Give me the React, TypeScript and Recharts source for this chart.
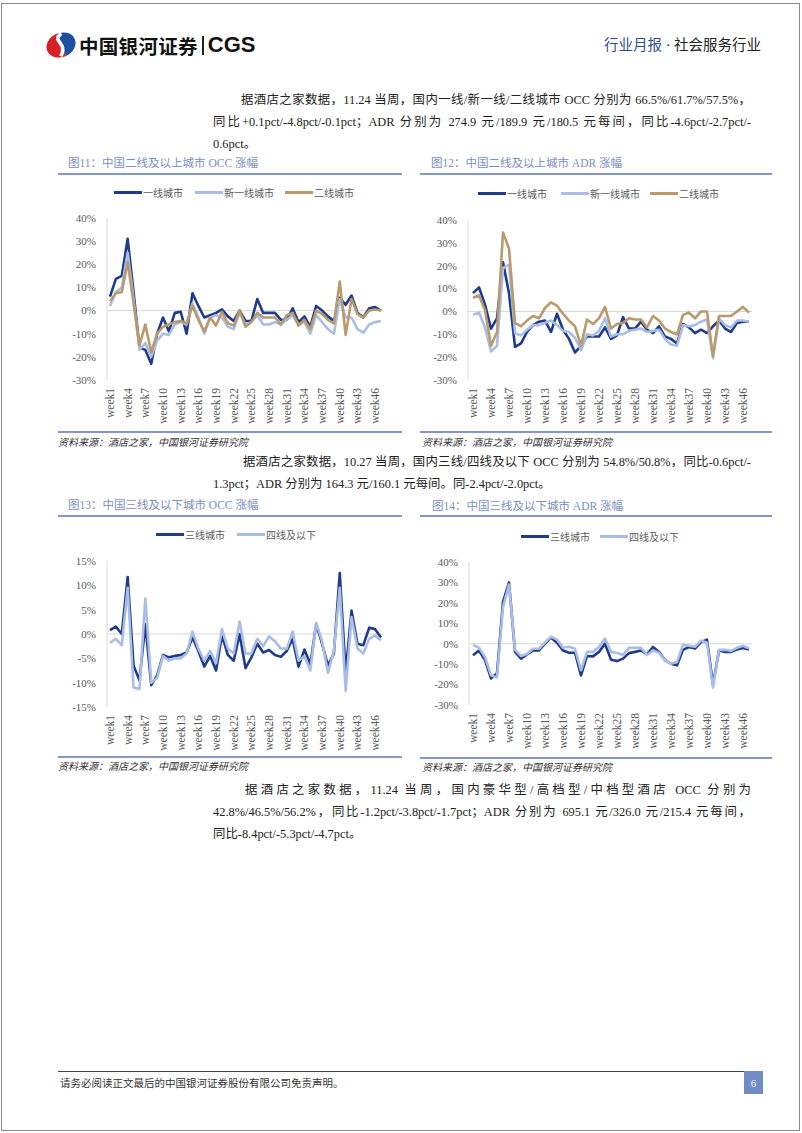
import { LineChart, Line, XAxis, YAxis, ReferenceLine } from 'recharts';

// week labels on the category axis
const weeks = Array.from({ length: 47 }, (_, i) => `week${i + 1}`);

// 图11 OCC (%)
const occTier1 = [6, 13.7, 15, 31, 8, -16, -17, -23, -10, -3, -9, -1, -0.5, -10, 7.5, 2, -3, -2, -1, 0.5, -2.5, -4.5, 0, -4.5, -4.5, 5, -1, -1, -1, -4, -4, 1, -5, -2.5, -7, 2, 0, -2.5, -4.5, 5.5, 2.5, 6.5, -1, -3, 1, 1.5, 0];
const occNewTier1 = [2, 8, 10, 25, 5, -17, -14, -20, -13, -10, -10.5, -6, -5, -6, 3, -3, -10, -3, -2, -3, -7, -8, -1, -6, -5, -2, -6, -6, -5, -6, -4, -2, -6, -5, -10, -2, -5, -8, -10, 5, -3, -3, -8, -9.5, -6, -5, -4.5];
const occTier2 = [4, 7.5, 8, 21, 3, -15, -6, -18, -10, -7, -6, -5, -4.5, -5.5, 2, -4, -9, -3, -6.5, -0.5, -5.5, -6.5, 0, -7, -5, -1, -3, -3, -3, -6, -2, -1, -6.5, -4, -8, 0, -1.5, -4, -5.5, 12.5, -10.5, 5, -1.5, -3, 0, 0.5, 0];

// 图12 ADR (%)
const adrTier1 = [8, 10.5, 3, -7.5, -3, 21.5, 8, -15.5, -14, -9, -6, -4.5, -4, -9, -1, -8, -12, -18, -15, -11, -11, -11, -7, -12, -10.5, -2.5, -7.5, -7.5, -4.5, -8, -9.5, -6.5, -11, -12, -14, -5.5, -7, -9.5, -8, -9.5, -6.5, -4, -7.5, -9, -5, -4.5, -4.5];
const adrNewTier1 = [-1.5, -0.5, -7, -17.5, -15, 19, 20.5, -9.5, -10.5, -8, -6, -6, -5, -4, -6, -8.5, -9, -11.5, -17, -10, -10.5, -8.5, -3, -11, -10, -10, -8.5, -8, -7.5, -9, -8.5, -8, -12, -14.5, -15, -6, -6.5, -6, -4.5, -3.5, -20.5, -3, -6, -7, -4, -4, -4.5];
const adrTier2 = [6, 7, 0.5, -15, -9, 34.5, 27.5, -5, -6.5, -4, -2, -3, 1.5, 4, 2.5, -1, -4, -6.5, -15, -3.5, -5.5, -3, 2, -7.5, -5.5, -5, -3, -3.5, -3.5, -7, -2, -4, -7.5, -9, -10, -1.5, -0.5, -3, 0, 0, -19.5, -2, -2, -2, 0, 2, -0.5];

// 图13 OCC (%)
const occTier3 = [0.8, 1.5, 0, 11.7, -6.5, -9.5, 2, -10.5, -8.5, -4.3, -4.8, -4.5, -4.3, -3.8, -0.7, -3.5, -6.7, -4.5, -7.5, -0.3, -4.3, -5.5, 0, -7, -4.8, -2, -3.8, -3.3, -4.3, -4.7, -3.5, -1, -6.7, -3.2, -6.2, 2, -2, -6.5, -4, 12.5, -8, 4.8, -2, -2.3, 1.3, 1, -0.7];
const occTier4 = [-1.8, -1, -2.3, 9.5, -11, -11.3, 7.3, -10, -9, -4.5, -5.5, -5, -5, -4, 0.5, -3, -5.5, -3.5, -6, 1, -3, -4, 2.5, -4, -4, -1, -2.5, -0.5, -1.5, -3, -3, 0.5, -5.5, -4.5, -7.5, 2.3, -1.5, -8, -3.5, 9.5, -11.7, 3.5, -3, -4, -1, -0.3, -1.3];

// 图14 ADR (%)
const adrTier3 = [-5.7, -3.3, -8, -17, -14.5, 20.5, 30, -4, -7.3, -5.2, -3.3, -3.3, 0, 3, 0.5, -3.3, -4.4, -4.4, -15.5, -6, -6.2, -4, 0, -7.8, -8.5, -7.3, -4.6, -4, -3.3, -5.2, -1.6, -4, -8, -9.8, -10.6, -3, -1.6, -2.4, 0.8, 2, -20, -3.3, -4, -4, -2.8, -2.1, -2.8];
const adrTier4 = [-0.5, -2, -6.5, -15.5, -16.5, 18, 29, -3, -6, -5, -2.5, -2.5, 0.5, 3.5, 2, -2, -1.5, -2.5, -13, -4, -4, -1.5, 2.5, -4, -4.5, -5.5, -2, -2, -2, -5.5, -3.3, -4.5, -8, -9.8, -9, -0.5, -1, -1.5, 1.5, 0.5, -21.5, -3, -3, -3.5, -2, -1, -2.3];

const ticksWide = [-30, -20, -10, 0, 10, 20, 30, 40];
const ticksNarrow = [-15, -10, -5, 0, 5, 10, 15];

const NAVY = '#1f3b8c';
const LIGHT = '#a9bde6';
const TAN = '#b89a6c';
const SERIF = "'Liberation Serif', 'Noto Sans CJK SC', serif";
const AXIS_GREY = '#d9d9d9';
const TEXT_GREY = '#595959';

interface SeriesDef {
  key: string;
  name: string;
  color: string;
  values: number[];
}

// eslint-disable-next-line @typescript-eslint/no-explicit-any
const WeekTick = (props: any) => {
  const { x, y, payload } = props;
  return (
    <text
      x={x}
      y={y}
      transform={`rotate(-90, ${x}, ${y})`}
      textAnchor="end"
      dominantBaseline="central"
      fill={TEXT_GREY}
      fontSize={11.5}
      fontFamily={SERIF}
    >
      {payload.value}
    </text>
  );
};

interface TrendProps {
  left: number;
  top: number;
  width: number;
  height: number;
  marginTop: number;
  yWidth: number;
  padLeft: number;
  ticks: number[];
  series: SeriesDef[];
}

function TrendChart({ left, top, width, height, marginTop, yWidth, padLeft, ticks, series }: TrendProps) {
  const rows = weeks.map((w, i) => {
    const r: Record<string, string | number> = { week: w };
    series.forEach((s) => {
      r[s.key] = s.values[i];
    });
    return r;
  });
  return (
    <div style={{ position: 'absolute', left, top }}>
      <LineChart width={width} height={height} data={rows} margin={{ top: marginTop, right: 0, bottom: 0, left: 0 }}>
        <XAxis
          dataKey="week"
          scale="point"
          padding={{ left: padLeft, right: 3 }}
          interval={2}
          axisLine={false}
          tickLine={false}
          height={50}
          tick={(p) => <WeekTick {...p} />}
        />
        <YAxis
          type="number"
          domain={[ticks[0], ticks[ticks.length - 1]]}
          ticks={ticks}
          width={yWidth}
          axisLine={{ stroke: AXIS_GREY }}
          tickLine={false}
          tickMargin={5}
          tick={{ fill: TEXT_GREY, fontSize: 11, fontFamily: SERIF }}
          tickFormatter={(v) => `${v}%`}
        />
        <ReferenceLine y={0} stroke={AXIS_GREY} />
        {series.map((s) => (
          <Line
            key={s.key}
            type="linear"
            dataKey={s.key}
            name={s.name}
            stroke={s.color}
            strokeWidth={2.6}
            strokeLinejoin="round"
            dot={false}
            isAnimationActive={false}
          />
        ))}
      </LineChart>
    </div>
  );
}

function Legend({ top, items }: { top: number; items: { x: number; label: string; color: string }[] }) {
  return (
    <>
      {items.map((it) => (
        <div key={it.label} style={{ position: 'absolute', left: it.x, top: top - 7, height: 14, display: 'flex', alignItems: 'center' }}>
          <div style={{ width: 28, height: 3, background: it.color }} />
          <span style={{ marginLeft: 1, fontSize: 10, color: TEXT_GREY, fontFamily: SERIF, whiteSpace: 'nowrap' }}>{it.label}</span>
        </div>
      ))}
    </>
  );
}

function TextLine({ left, y, width, text, justify }: { left: number; y: number; width?: number; text: string; justify?: boolean }) {
  return (
    <div
      style={{
        position: 'absolute',
        left,
        top: y - 8,
        width,
        height: 16,
        lineHeight: '16px',
        fontSize: 12.4,
        color: '#222',
        fontFamily: SERIF,
        whiteSpace: 'nowrap',
        textAlign: justify ? 'justify' : 'left',
        textAlignLast: justify ? 'justify' : 'left',
      }}
    >
      {text}
    </div>
  );
}

function Rule({ left, right, y, color = '#8596c8', h = 1.5 }: { left: number; right: number; y: number; color?: string; h?: number }) {
  return <div style={{ position: 'absolute', left, top: y, width: right - left, height: h, background: color }} />;
}

function Title({ left, y, text }: { left: number; y: number; text: string }) {
  return (
    <div style={{ position: 'absolute', left, top: y - 8, lineHeight: '16px', fontSize: 11.5, color: '#7a8fc2', fontFamily: SERIF, whiteSpace: 'nowrap' }}>
      {text}
    </div>
  );
}

function Source({ left, y }: { left: number; y: number }) {
  return (
    <div style={{ position: 'absolute', left, top: y - 7, lineHeight: '14px', fontSize: 10, fontStyle: 'italic', color: '#333', fontFamily: SERIF, whiteSpace: 'nowrap' }}>
      资料来源：酒店之家，中国银河证券研究院
    </div>
  );
}

export default function App() {
  const upperOcc: SeriesDef[] = [
    { key: 't1', name: '一线城市', color: NAVY, values: occTier1 },
    { key: 'n1', name: '新一线城市', color: LIGHT, values: occNewTier1 },
    { key: 't2', name: '二线城市', color: TAN, values: occTier2 },
  ];
  const upperAdr: SeriesDef[] = [
    { key: 't1', name: '一线城市', color: NAVY, values: adrTier1 },
    { key: 'n1', name: '新一线城市', color: LIGHT, values: adrNewTier1 },
    { key: 't2', name: '二线城市', color: TAN, values: adrTier2 },
  ];
  const lowerOcc: SeriesDef[] = [
    { key: 't3', name: '三线城市', color: NAVY, values: occTier3 },
    { key: 't4', name: '四线及以下', color: LIGHT, values: occTier4 },
  ];
  const lowerAdr: SeriesDef[] = [
    { key: 't3', name: '三线城市', color: NAVY, values: adrTier3 },
    { key: 't4', name: '四线及以下', color: LIGHT, values: adrTier4 },
  ];

  return (
    <div style={{ position: 'absolute', left: 0, top: 0, width: 802, height: 1133, background: '#fff', overflow: 'hidden' }}>
      {/* page frame */}
      <div style={{ position: 'absolute', left: 1, top: 3, width: 799, height: 1128, border: '1px solid #8a8a8a', boxSizing: 'border-box' }} />

      {/* header */}
      <svg style={{ position: 'absolute', left: 44, top: 31 }} width={34} height={28} viewBox="0 0 34 28">
        <g transform="rotate(-25 17 14)">
          <path d="M17 2 A15 12 0 0 0 17 26 Z" fill="#d71f26" />
          <path d="M17 2 A15 12 0 0 1 17 26 Z" fill="#1f4fa3" />
          <path d="M22 4 C 9 6, 25 15, 12 24" stroke="#fff" strokeWidth={3.5} fill="none" />
        </g>
      </svg>
      <div style={{ position: 'absolute', left: 79, top: 32, height: 26, display: 'flex', alignItems: 'center', color: '#111' }}>
        <span style={{ fontFamily: "'Noto Sans CJK SC', sans-serif", fontWeight: 700, fontSize: 19.5, letterSpacing: 0.3 }}>中国银河证券</span>
        <span style={{ width: 2, height: 19, background: '#222', margin: '0 4px 0 4px' }} />
        <span style={{ fontFamily: "'Liberation Sans', Arial, sans-serif", fontWeight: 700, fontSize: 22 }}>CGS</span>
      </div>
      <div style={{ position: 'absolute', left: 604, top: 36, lineHeight: '18px', fontSize: 14.5, fontFamily: SERIF, whiteSpace: 'nowrap' }}>
        <span style={{ color: '#2e4d8f' }}>行业月报</span>
        <span style={{ color: '#222' }}> · 社会服务行业</span>
      </div>

      {/* paragraph 1 */}
      <TextLine left={241} y={100} width={510} justify text="据酒店之家数据，11.24 当周，国内一线/新一线/二线城市 OCC 分别为 66.5%/61.7%/57.5%，" />
      <TextLine left={213} y={122} width={538} justify text="同比+0.1pct/-4.8pct/-0.1pct；ADR 分别为 274.9 元/189.9 元/180.5 元每间，同比-4.6pct/-2.7pct/-" />
      <TextLine left={213} y={144} text="0.6pct。" />

      {/* figure 11 / 12 */}
      <Title left={68} y={163} text="图11：中国二线及以上城市 OCC 涨幅" />
      <Rule left={58} right={402} y={173} />
      <Title left={431} y={163} text="图12：中国二线及以上城市 ADR 涨幅" />
      <Rule left={420} right={772} y={173} />

      <Legend
        top={192}
        items={[
          { x: 114, label: '一线城市', color: NAVY },
          { x: 195, label: '新一线城市', color: LIGHT },
          { x: 285, label: '二线城市', color: TAN },
        ]}
      />
      <Legend
        top={193}
        items={[
          { x: 478, label: '一线城市', color: NAVY },
          { x: 561, label: '新一线城市', color: LIGHT },
          { x: 650, label: '二线城市', color: TAN },
        ]}
      />

      <TrendChart left={55} top={200} width={329} height={230} marginTop={18} yWidth={52} padLeft={3} ticks={ticksWide} series={upperOcc} />
      <TrendChart left={415} top={200} width={337} height={230} marginTop={20} yWidth={53} padLeft={5} ticks={ticksWide} series={upperAdr} />

      <Rule left={58} right={402} y={431} />
      <Rule left={420} right={772} y={431} />
      <Source left={58} y={443} />
      <Source left={422} y={443} />

      {/* paragraph 2 */}
      <TextLine left={243} y={462} width={508} justify text="据酒店之家数据，10.27 当周，国内三线/四线及以下 OCC 分别为 54.8%/50.8%，同比-0.6pct/-" />
      <TextLine left={213} y={484} text="1.3pct；ADR 分别为 164.3 元/160.1 元每间。同-2.4pct/-2.0pct。" />

      {/* figure 13 / 14 */}
      <Title left={68} y={505} text="图13：中国三线及以下城市 OCC 涨幅" />
      <Rule left={58} right={402} y={515} />
      <Title left={432} y={506} text="图14：中国三线及以下城市 ADR 涨幅" />
      <Rule left={420} right={772} y={515} />

      <Legend
        top={534}
        items={[
          { x: 156, label: '三线城市', color: NAVY },
          { x: 237, label: '四线及以下', color: LIGHT },
        ]}
      />
      <Legend
        top={536}
        items={[
          { x: 521, label: '三线城市', color: NAVY },
          { x: 600, label: '四线及以下', color: LIGHT },
        ]}
      />

      <TrendChart left={55} top={545} width={329} height={212} marginTop={16} yWidth={52} padLeft={3} ticks={ticksNarrow} series={lowerOcc} />
      <TrendChart left={415} top={545} width={337} height={210} marginTop={17} yWidth={54} padLeft={4} ticks={ticksWide} series={lowerAdr} />

      <Rule left={58} right={402} y={756} />
      <Rule left={420} right={772} y={757} />
      <Source left={58} y={767} />
      <Source left={422} y={768} />

      {/* paragraph 3 */}
      <TextLine left={245} y={790} width={506} justify text="据酒店之家数据，11.24 当周，国内豪华型/高档型/中档型酒店 OCC 分别为" />
      <TextLine left={213} y={812} width={538} justify text="42.8%/46.5%/56.2%，同比-1.2pct/-3.8pct/-1.7pct；ADR 分别为 695.1 元/326.0 元/215.4 元每间，" />
      <TextLine left={213} y={834} text="同比-8.4pct/-5.3pct/-4.7pct。" />

      {/* footer */}
      <Rule left={58} right={762} y={1071} color="#444" h={1} />
      <div style={{ position: 'absolute', left: 60, top: 1077, lineHeight: '14px', fontSize: 10.5, color: '#333', fontFamily: SERIF, whiteSpace: 'nowrap' }}>
        请务必阅读正文最后的中国银河证券股份有限公司免责声明。
      </div>
      <div
        style={{
          position: 'absolute',
          left: 744,
          top: 1071,
          width: 19,
          height: 23,
          background: '#6f8cc4',
          color: '#fff',
          fontSize: 11,
          fontFamily: SERIF,
          display: 'flex',
          alignItems: 'center',
          justifyContent: 'center',
        }}
      >
        6
      </div>
    </div>
  );
}
